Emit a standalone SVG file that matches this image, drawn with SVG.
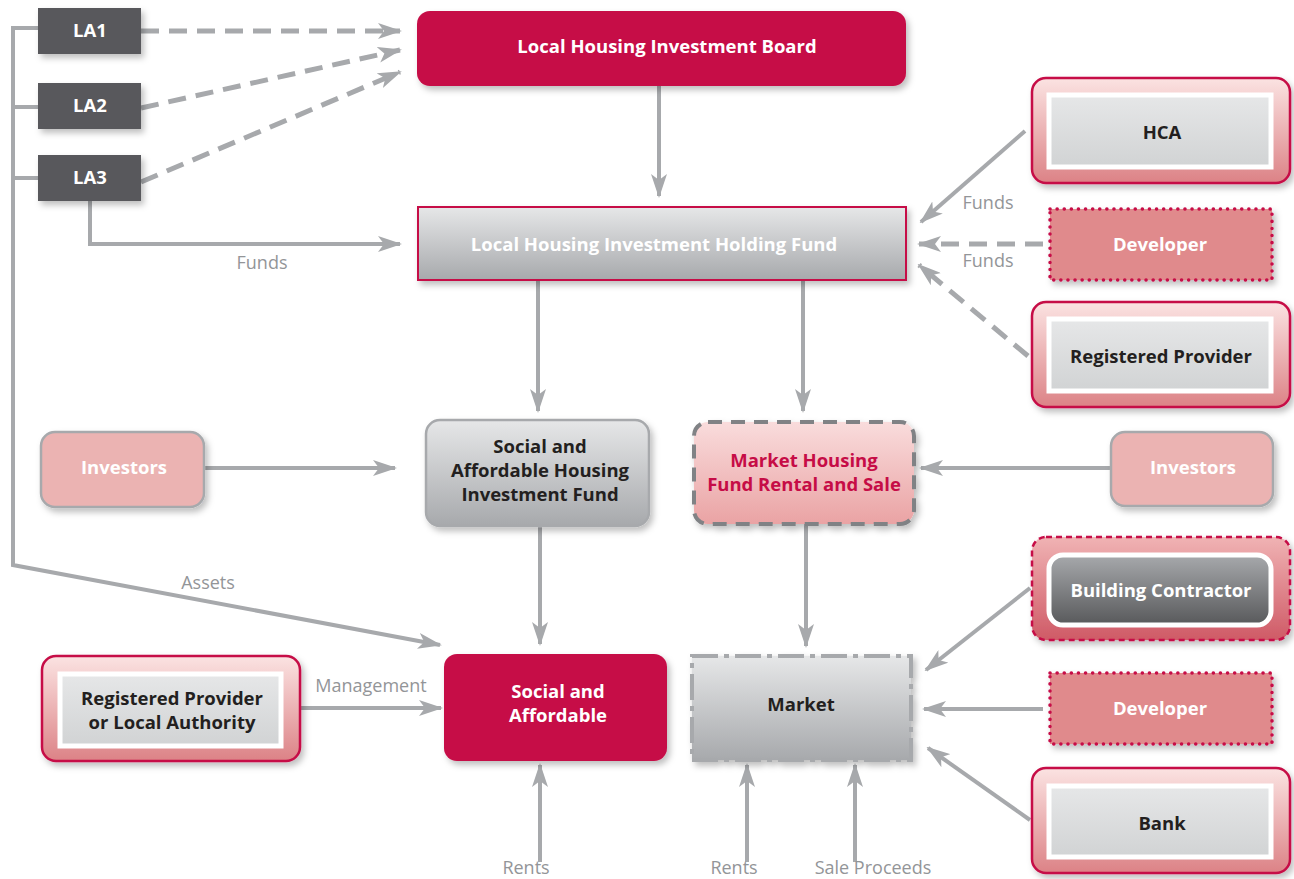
<svg xmlns="http://www.w3.org/2000/svg" width="1294" height="879" viewBox="0 0 1294 879">
<defs>
<style>
.t{font-family:"Open Sans","Noto Sans","Liberation Sans",sans-serif;font-weight:bold;font-size:18.5px;text-anchor:middle}
.w{fill:#ffffff}
.d{fill:#231f20}
.r{fill:#c60c46}
.lbl{font-family:"Open Sans","Noto Sans","Liberation Sans",sans-serif;font-size:18px;fill:#939598;text-anchor:middle}
.c{fill:none;stroke:#a7a9ac;stroke-width:4}
.dash{stroke-dasharray:18 10;stroke-width:5}
</style>
<marker id="ah" markerUnits="userSpaceOnUse" markerWidth="24" markerHeight="16" refX="22" refY="8" orient="auto">
<path d="M0,0 L24,8 L0,16 L6,8 Z" fill="#a7a9ac"/>
</marker>
<linearGradient id="gGray" x1="0" y1="0" x2="0" y2="1">
<stop offset="0" stop-color="#e6e7e8"/>
<stop offset="1" stop-color="#a7a9ac"/>
</linearGradient>
<linearGradient id="gLight" x1="0" y1="0" x2="0" y2="1">
<stop offset="0" stop-color="#e6e7e8"/>
<stop offset="1" stop-color="#d1d3d4"/>
</linearGradient>
<linearGradient id="gPink" x1="0" y1="0" x2="0" y2="1">
<stop offset="0" stop-color="#fbe3e2"/>
<stop offset="1" stop-color="#dc8286"/>
</linearGradient>
<linearGradient id="gPinkM" x1="0" y1="0" x2="0" y2="1">
<stop offset="0" stop-color="#f9dcdc"/>
<stop offset="1" stop-color="#eaa3a4"/>
</linearGradient>
<linearGradient id="gPinkD" x1="0" y1="0" x2="0" y2="1">
<stop offset="0" stop-color="#f0b3b4"/>
<stop offset="1" stop-color="#cf5a66"/>
</linearGradient>
<linearGradient id="gDark" x1="0" y1="0" x2="0" y2="1">
<stop offset="0" stop-color="#a7a9ac"/>
<stop offset="1" stop-color="#58595b"/>
</linearGradient>
<filter id="sh" x="-10%" y="-10%" width="125%" height="140%">
<feDropShadow dx="3" dy="4" stdDeviation="3" flood-color="#000" flood-opacity="0.25"/>
</filter>
</defs>

<g id="connectors">
<path class="c" d="M38,28 H13 V565 L440,645" marker-end="url(#ah)"/>
<path class="c" d="M38,107 H13"/>
<path class="c" d="M38,178 H13"/>
<path class="c dash" d="M141,31 L400,31" marker-end="url(#ah)"/>
<path class="c dash" d="M141,108 L400,50" marker-end="url(#ah)"/>
<path class="c dash" d="M141,182 L400,72" marker-end="url(#ah)"/>
<path class="c" d="M90,201 V244 H400" marker-end="url(#ah)"/>
<path class="c" d="M659,86 V196" marker-end="url(#ah)"/>
<path class="c" d="M1025,131 L921,222" marker-end="url(#ah)"/>
<path class="c dash" d="M1043,244 L919,244" marker-end="url(#ah)"/>
<path class="c dash" d="M1028,356 L919,265" marker-end="url(#ah)"/>
<path class="c" d="M538,280 V411" marker-end="url(#ah)"/>
<path class="c" d="M803,280 V411" marker-end="url(#ah)"/>
<path class="c" d="M204,468 H395" marker-end="url(#ah)"/>
<path class="c" d="M1111,468 H921" marker-end="url(#ah)"/>
<path class="c" d="M540,526 V644" marker-end="url(#ah)"/>
<path class="c" d="M806,524 V646" marker-end="url(#ah)"/>
<path class="c" d="M1030,588 L926,670" marker-end="url(#ah)"/>
<path class="c" d="M1043,709 L924,709" marker-end="url(#ah)"/>
<path class="c" d="M1030,820 L928,748" marker-end="url(#ah)"/>
<path class="c" d="M300,708 H441" marker-end="url(#ah)"/>
<path class="c" d="M540,862 V765" marker-end="url(#ah)"/>
<path class="c" d="M747,862 V765" marker-end="url(#ah)"/>
<path class="c" d="M855,862 V765" marker-end="url(#ah)"/>
<text class="lbl" x="262" y="269">Funds</text>
<text class="lbl" x="988" y="209">Funds</text>
<text class="lbl" x="988" y="267">Funds</text>
<text class="lbl" x="208" y="589">Assets</text>
<text class="lbl" x="371" y="692">Management</text>
<text class="lbl" x="526" y="874">Rents</text>
<text class="lbl" x="734" y="874">Rents</text>
<text class="lbl" x="873" y="874">Sale Proceeds</text>
</g>

<g id="la1"><rect x="38" y="8" width="103" height="46" fill="#58595b" filter="url(#sh)"/><text class="t w" x="90" y="37">LA1</text></g>
<g id="la2"><rect x="38" y="83" width="103" height="46" fill="#58595b" filter="url(#sh)"/><text class="t w" x="90" y="112">LA2</text></g>
<g id="la3"><rect x="38" y="155" width="103" height="46" fill="#58595b" filter="url(#sh)"/><text class="t w" x="90" y="184">LA3</text></g>

<g id="board"><rect x="417" y="11" width="489" height="75" rx="13" fill="#c60c46" filter="url(#sh)"/><text class="t w" x="667" y="53">Local Housing Investment Board</text></g>

<g id="holding"><rect x="418" y="207" width="488" height="73" fill="url(#gGray)" stroke="#c60c46" stroke-width="2" filter="url(#sh)"/><text class="t w" x="654" y="251">Local Housing Investment Holding Fund</text></g>

<g id="hca"><rect x="1032" y="78" width="258" height="105" rx="14" fill="url(#gPink)" stroke="#c60c46" stroke-width="2.5" filter="url(#sh)"/><rect x="1049" y="95" width="222" height="72" fill="url(#gLight)" stroke="#ffffff" stroke-width="5"/><text class="t d" x="1162" y="139">HCA</text></g>

<g id="developer1"><rect x="1050" y="209" width="222" height="71" fill="#e08a8c" stroke="#c60c46" stroke-width="3.5" stroke-dasharray="0.1 7" stroke-linecap="round" filter="url(#sh)"/><text class="t w" x="1160" y="251">Developer</text></g>

<g id="rp1"><rect x="1032" y="302" width="258" height="105" rx="14" fill="url(#gPink)" stroke="#c60c46" stroke-width="2.5" filter="url(#sh)"/><rect x="1049" y="319" width="222" height="72" fill="url(#gLight)" stroke="#ffffff" stroke-width="5"/><text class="t d" x="1161" y="363">Registered Provider</text></g>

<g id="investors1"><rect x="41" y="432" width="163" height="75" rx="14" fill="#ebb3b2" stroke="#a7a9ac" stroke-width="2.5" filter="url(#sh)"/><text class="t w" x="124" y="474">Investors</text></g>

<g id="sahif"><rect x="426" y="420" width="223" height="106" rx="14" fill="url(#gGray)" stroke="#a7a9ac" stroke-width="2.5" filter="url(#sh)"/><text class="t d" x="540" y="453">Social and</text><text class="t d" x="540" y="477">Affordable Housing</text><text class="t d" x="540" y="501">Investment Fund</text></g>

<g id="mhfrs"><rect x="694" y="422" width="220" height="102" rx="14" fill="url(#gPinkM)" stroke="#808285" stroke-width="4" stroke-dasharray="14 9" filter="url(#sh)"/><text class="t r" x="804" y="467">Market Housing</text><text class="t r" x="804" y="491">Fund Rental and Sale</text></g>

<g id="investors2"><rect x="1111" y="432" width="162" height="74" rx="14" fill="#ebb3b2" stroke="#a7a9ac" stroke-width="2.5" filter="url(#sh)"/><text class="t w" x="1193" y="474">Investors</text></g>

<g id="contractor"><rect x="1032" y="537" width="258" height="103" rx="14" fill="url(#gPinkD)" stroke="#c60c46" stroke-width="2.5" stroke-dasharray="6 4" filter="url(#sh)"/><rect x="1049" y="555" width="222" height="70" rx="14" fill="url(#gDark)" stroke="#ffffff" stroke-width="5"/><text class="t w" x="1161" y="597">Building Contractor</text></g>

<g id="rpla"><rect x="42" y="656" width="258" height="105" rx="14" fill="url(#gPink)" stroke="#c60c46" stroke-width="2.5" filter="url(#sh)"/><rect x="60" y="674" width="221" height="72" fill="url(#gLight)" stroke="#ffffff" stroke-width="5"/><text class="t d" x="172" y="705">Registered Provider</text><text class="t d" x="172" y="729">or Local Authority</text></g>

<g id="social"><rect x="444" y="654" width="223" height="107" rx="13" fill="#c60c46" filter="url(#sh)"/><text class="t w" x="558" y="698">Social and</text><text class="t w" x="558" y="722">Affordable</text></g>

<g id="market"><rect x="692" y="656" width="219" height="104" fill="url(#gGray)" stroke="#a7a9ac" stroke-width="4" stroke-dasharray="26 6 5 6" filter="url(#sh)"/><text class="t d" x="801" y="711">Market</text></g>

<g id="developer2"><rect x="1050" y="673" width="222" height="71" fill="#e08a8c" stroke="#c60c46" stroke-width="3.5" stroke-dasharray="0.1 7" stroke-linecap="round" filter="url(#sh)"/><text class="t w" x="1160" y="715">Developer</text></g>

<g id="bank"><rect x="1032" y="768" width="258" height="105" rx="14" fill="url(#gPink)" stroke="#c60c46" stroke-width="2.5" filter="url(#sh)"/><rect x="1049" y="786" width="222" height="71" fill="url(#gLight)" stroke="#ffffff" stroke-width="5"/><text class="t d" x="1162" y="830">Bank</text></g>
</svg>
